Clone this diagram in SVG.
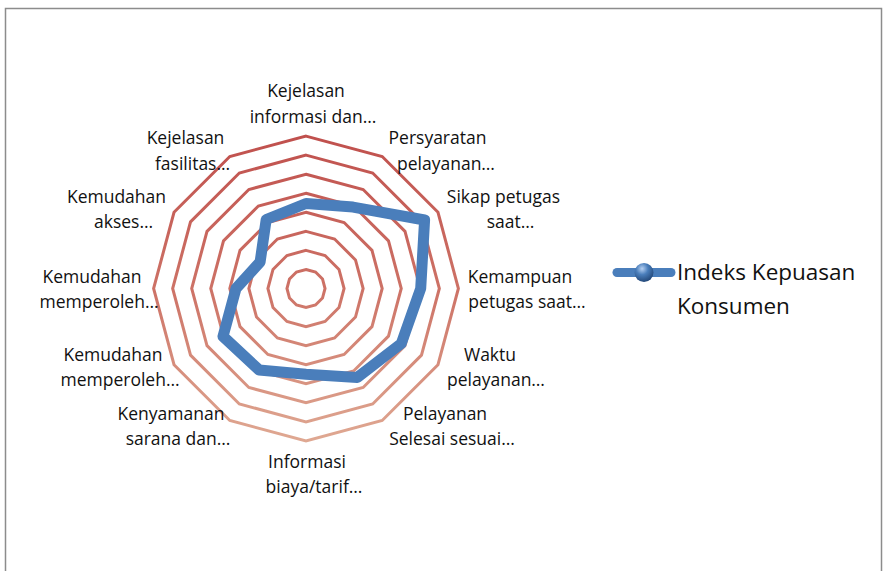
<svg xmlns="http://www.w3.org/2000/svg" width="884" height="571" viewBox="0 0 884 571">
<style>
.ring{fill:none;stroke:url(#ringGrad);stroke-width:3;stroke-linejoin:miter}
.lbl{font-family:"Open Sans","Noto Sans",sans-serif;font-size:17.5px;fill:#111;text-anchor:middle}
.leg{font-family:"Open Sans","Noto Sans",sans-serif;font-size:22.5px;fill:#111}
.series{fill:none;stroke:#4a7ebb;stroke-width:11;stroke-linejoin:round;stroke-linecap:round}
</style>
<defs>
<linearGradient id="ringGrad" gradientUnits="userSpaceOnUse" x1="0" y1="136" x2="0" y2="441">
<stop offset="0" stop-color="#c0504d"/>
<stop offset="0.5" stop-color="#cd7266"/>
<stop offset="1" stop-color="#dfa892"/>
</linearGradient>
<radialGradient id="sphere" cx="0.4" cy="0.3" r="0.7">
<stop offset="0" stop-color="#b6d0f2"/>
<stop offset="0.45" stop-color="#4a7ebb"/>
<stop offset="1" stop-color="#24497a"/>
</radialGradient>
</defs>
<rect x="5.5" y="8.5" width="876" height="580" fill="#fff" stroke="#8c8c8c" stroke-width="1.5"/>
<g id="grid">
<polygon class="ring" points="306,269.45 315.53,272 322.5,278.97 325.05,288.5 322.5,298.03 315.53,305 306,307.55 296.47,305 289.5,298.03 286.95,288.5 289.5,278.97 296.47,272"/>
<polygon class="ring" points="306,250.4 325.05,255.5 339,269.45 344.1,288.5 339,307.55 325.05,321.5 306,326.6 286.95,321.5 273,307.55 267.9,288.5 273,269.45 286.95,255.5"/>
<polygon class="ring" points="306,231.35 334.58,239.01 355.49,259.92 363.15,288.5 355.49,317.08 334.58,337.99 306,345.65 277.42,337.99 256.51,317.08 248.85,288.5 256.51,259.92 277.42,239.01"/>
<polygon class="ring" points="306,212.3 344.1,222.51 371.99,250.4 382.2,288.5 371.99,326.6 344.1,354.49 306,364.7 267.9,354.49 240.01,326.6 229.8,288.5 240.01,250.4 267.9,222.51"/>
<polygon class="ring" points="306,193.25 353.63,206.01 388.49,240.87 401.25,288.5 388.49,336.13 353.63,370.99 306,383.75 258.37,370.99 223.51,336.13 210.75,288.5 223.51,240.87 258.37,206.01"/>
<polygon class="ring" points="306,174.2 363.15,189.51 404.99,231.35 420.3,288.5 404.99,345.65 363.15,387.49 306,402.8 248.85,387.49 207.01,345.65 191.7,288.5 207.01,231.35 248.85,189.51"/>
<polygon class="ring" points="306,155.15 372.68,173.02 421.48,221.82 439.35,288.5 421.48,355.18 372.68,403.98 306,421.85 239.32,403.98 190.52,355.18 172.65,288.5 190.52,221.82 239.32,173.02"/>
<polygon class="ring" points="306,136.1 382.2,156.52 437.98,212.3 458.4,288.5 437.98,364.7 382.2,420.48 306,440.9 229.8,420.48 174.02,364.7 153.6,288.5 174.02,212.3 229.8,156.52"/>
</g>
<g id="series">
<polygon class="series" points="306,203.5 353,207.1 424.6,220 420.7,288.5 401.3,343.5 357.4,377.4 306,374.2 259,369.9 223,336.4 236,288.5 260.1,262 266.2,219.5"/>
</g>
<g id="labels">
<g id="lbl1"><text class="lbl" x="306" y="97">Kejelasan</text><text class="lbl" x="313" y="123">informasi dan…</text></g>
<g id="lbl2"><text class="lbl" x="437.5" y="144">Persyaratan</text><text class="lbl" x="446" y="170">pelayanan…</text></g>
<g id="lbl3"><text class="lbl" x="503.5" y="203">Sikap petugas</text><text class="lbl" x="510.5" y="228">saat…</text></g>
<g id="lbl4"><text class="lbl" x="520" y="283">Kemampuan</text><text class="lbl" x="527" y="308">petugas saat…</text></g>
<g id="lbl5"><text class="lbl" x="490" y="361">Waktu</text><text class="lbl" x="496" y="386">pelayanan…</text></g>
<g id="lbl6"><text class="lbl" x="445" y="420">Pelayanan</text><text class="lbl" x="452" y="445">Selesai sesuai…</text></g>
<g id="lbl7"><text class="lbl" x="307" y="468">Informasi</text><text class="lbl" x="314" y="493">biaya/tarif…</text></g>
<g id="lbl8"><text class="lbl" x="171" y="420">Kenyamanan</text><text class="lbl" x="178" y="445">sarana dan…</text></g>
<g id="lbl9"><text class="lbl" x="113" y="361">Kemudahan</text><text class="lbl" x="120" y="386">memperoleh…</text></g>
<g id="lbl10"><text class="lbl" x="92" y="283">Kemudahan</text><text class="lbl" x="99" y="308">memperoleh…</text></g>
<g id="lbl11"><text class="lbl" x="116.5" y="203">Kemudahan</text><text class="lbl" x="123.5" y="228">akses…</text></g>
<g id="lbl12"><text class="lbl" x="185.5" y="144">Kejelasan</text><text class="lbl" x="192.5" y="170">fasilitas…</text></g>
</g>
<g id="legend">
<line x1="617" y1="272.5" x2="671" y2="272.5" stroke="#4a7ebb" stroke-width="9" stroke-linecap="round"/>
<circle cx="644" cy="272.5" r="9.5" fill="url(#sphere)"/>
<text class="leg" x="677" y="280">Indeks Kepuasan</text>
<text class="leg" x="677" y="314">Konsumen</text>
</g>
</svg>
